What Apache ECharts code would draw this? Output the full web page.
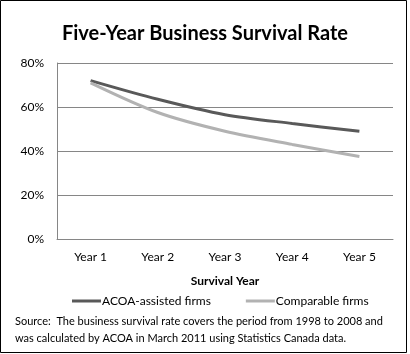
<!DOCTYPE html>
<html><head><meta charset="utf-8">
<script src="https://cdn.jsdelivr.net/npm/echarts@6/dist/echarts.min.js"></script>
<style>html,body{margin:0;padding:0;background:#fff}#c{width:410px;height:354px}</style>
</head><body><div id="c"></div>
<script>
var categories = ['Year 1', 'Year 2', 'Year 3', 'Year 4', 'Year 5'];
var acoaAssisted = [72, 63.5, 56.5, 52.5, 49];
var comparable = [71, 57.5, 49, 43, 37.5];
var yTicks = [0, 20, 40, 60, 80];
var titleText = 'Five-Year Business Survival Rate';
var sourceLines = ['Source:  The business survival rate covers the period from 1998 to 2008 and',
                   'was calculated by ACOA in March 2011 using Statistics Canada data.'];
var F = 'Lato, "Open Sans", sans-serif';
var chart = echarts.init(document.getElementById('c'));
chart.setOption({
  animation: false,
  title: { text: titleText, left: 'center', top: 19,
    textStyle: { fontFamily: F, fontWeight: 'bold', fontSize: 20, color: '#000' } },
  grid: { left: 57, right: 17, top: 63, bottom: 115, containLabel: false },
  legend: { top: 290, left: 67, icon: 'rect', itemWidth: 29, itemHeight: 3, itemGap: 35,
    textStyle: { fontFamily: F, fontSize: 12, color: '#000', padding: [0,0,0,-4] },
    data: ['ACOA-assisted firms', 'Comparable firms'] },
  xAxis: { type: 'category', data: categories, boundaryGap: true,
    name: 'Survival Year', nameLocation: 'middle', nameGap: 36,
    nameTextStyle: { fontFamily: F, fontWeight: 'bold', fontSize: 12, color: '#000' },
    axisLine: { lineStyle: { color: '#868686' } }, axisTick: { show: false },
    axisLabel: { fontFamily: F, fontSize: 12, color: '#000', margin: 12 } },
  yAxis: { type: 'value', min: 0, max: 80, interval: 20,
    axisLine: { show: true, lineStyle: { color: '#868686' } }, axisTick: { show: false },
    splitLine: { lineStyle: { color: '#868686' } },
    axisLabel: { fontFamily: F, fontSize: 12, color: '#000', margin: 13,
      formatter: function (v) { return yTicks.indexOf(v) >= 0 ? v + '%' : ''; } } },
  series: [
    { name: 'ACOA-assisted firms', type: 'line', data: acoaAssisted, smooth: 0.3, symbol: 'none',
      lineStyle: { color: '#595959', width: 3 }, itemStyle: { color: '#595959' } },
    { name: 'Comparable firms', type: 'line', data: comparable, smooth: 0.3, symbol: 'none',
      lineStyle: { color: '#b2b2b2', width: 3 }, itemStyle: { color: '#b2b2b2' } }
  ],
  graphic: [
    { type: 'rect', shape: { x: 0.5, y: 0.5, width: 406, height: 352 }, style: { fill: 'none', stroke: '#000', lineWidth: 1 } },
    { type: 'text', left: 15, top: 316, style: { text: sourceLines[0], font: '11px ' + F, fill: '#000' } },
    { type: 'text', left: 15, top: 333, style: { text: sourceLines[1], font: '11px ' + F, fill: '#000' } }
  ]
});
</script></body></html>
